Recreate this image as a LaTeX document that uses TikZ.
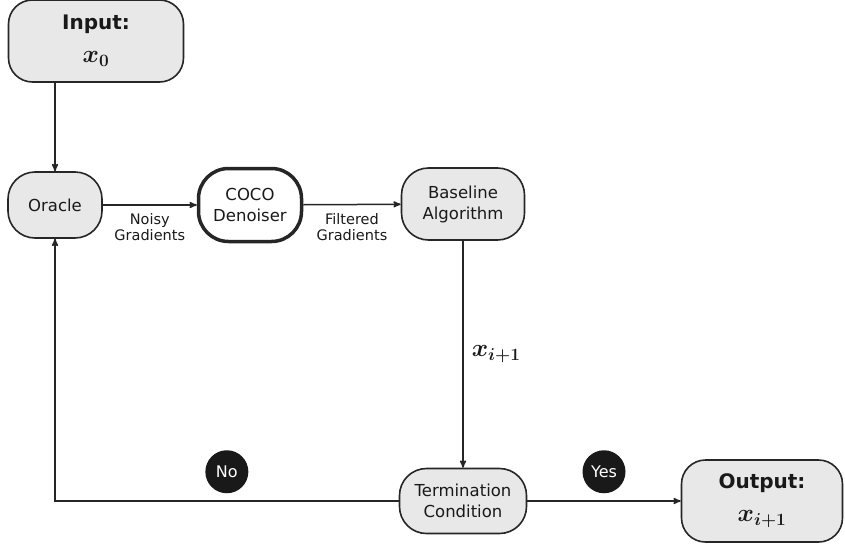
\documentclass[tikz,border=0pt]{standalone}
\usepackage{amsmath}
\usepackage{fontspec}
\setmainfont{DejaVu Sans}
\usetikzlibrary{arrows}
\usetikzlibrary{positioning}

\begin{document}
\begin{tikzpicture}[x=1pt,y=-1pt,
    blk/.style={draw=black!85,line width=1.6pt,fill=black!9,rounded corners=27pt,align=center,
      font=\fontsize{16.5}{21}\selectfont,text=black!90,inner sep=0pt},
    lbl/.style={align=center,font=\fontsize{14.5}{16}\selectfont,text=black!90,inner sep=2pt},
    badge/.style={circle,fill=black!90,text=white,minimum size=43pt,inner sep=0pt,
      font=\fontsize{16}{18}\selectfont},
    flow/.style={draw=black!85,line width=1.5pt,->,>=stealth'}]

  \useasboundingbox (0,0) rectangle (845,546);

  \node [blk,minimum width=175,minimum height=82,rounded corners=24pt] (input) at (96,41)
    {\textbf{\fontsize{20}{24}\selectfont Input:}\\[12pt] {\fontsize{25}{28}\selectfont$\boldsymbol{x_0}$}};

  \node [blk,minimum width=94,minimum height=66] (oracle) at (55,205) {Oracle};
  \node [blk,fill=white,line width=3.5pt,minimum width=103,minimum height=73,rounded corners=30pt] (coco) at (250,205) {COCO\\Denoiser};
  \node [blk,minimum width=123,minimum height=72] (base) at (463,204) {Baseline\\Algorithm};
  \node [blk,minimum width=127,minimum height=65] (term) at (463,501) {Termination\\Condition};

  \node [blk,minimum width=161,minimum height=82,rounded corners=24pt] (output) at (762,501)
    {\textbf{\fontsize{20}{24}\selectfont Output:}\\[12pt] {\fontsize{25}{28}\selectfont$\boldsymbol{x_{i+1}}$}};

  \draw [flow] (oracle |- input.south) -- (oracle.north);

  \path [flow]
    (oracle) edge node [below=6pt,lbl] {Noisy\\Gradients} (coco)
    (coco) edge node [below=6pt,lbl] {Filtered\\Gradients} (base)
    (base) edge node [right=6pt,lbl] {\fontsize{25}{28}\selectfont$\boldsymbol{x_{i+1}}$} (term)
    (term) edge node [above=7pt,badge] (yes) {Yes} (output);

  \draw [flow] (term.west) -| node [pos=0.25,above=7pt,badge] (no) {No} (oracle.south);

\end{tikzpicture}
\end{document}
